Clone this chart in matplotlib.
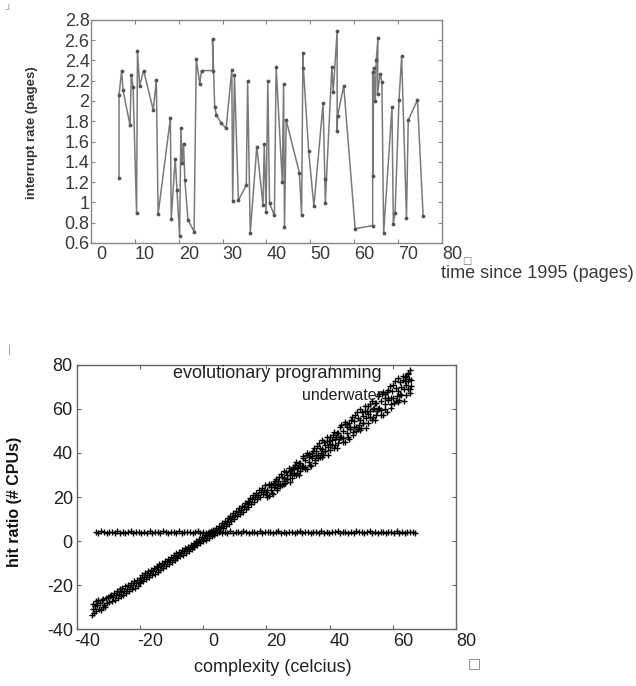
import matplotlib
matplotlib.use("Agg")
import matplotlib.pyplot as plt
import matplotlib.transforms as mtrans

plt.rcParams['font.family'] = ['Liberation Sans', 'DejaVu Sans']
plt.rcParams['axes.unicode_minus'] = False

# --- top panel: interrupt rate over time ---
time_x = [6.4, 6.4, 7.0, 7.3, 8.9, 9.2, 9.6, 10.4, 10.6, 11.1,
          12.0, 14.2, 14.9, 15.3, 18.1, 18.3, 19.2, 19.6, 20.2, 20.5,
          20.8, 21.1, 21.4, 22.1, 23.5, 24.0, 24.8, 25.2, 27.8, 27.7,
          28.2, 28.6, 29.7, 30.8, 32.1, 32.3, 32.7, 33.6, 35.4, 35.7,
          36.3, 37.8, 39.2, 39.5, 39.9, 40.3, 40.7, 41.8, 42.2, 43.6,
          43.9, 44.1, 44.5, 47.5, 48.0, 48.3, 48.4, 49.6, 50.8, 52.9,
          53.3, 53.4, 54.9, 55.2, 56.1, 56.1, 56.2, 57.6, 60.2, 64.2,
          64.2, 64.3, 64.4, 64.8, 65.0, 65.4, 65.3, 65.9, 66.3, 66.7,
          68.6, 68.9, 69.3, 70.2, 70.8, 71.9, 72.3, 74.4, 75.7]
rate_y = [1.24, 2.06, 2.30, 2.11, 1.76, 2.26, 2.14, 0.89, 2.49, 2.15,
          2.30, 1.91, 2.21, 0.88, 1.83, 0.84, 1.43, 1.12, 0.67, 1.73,
          1.39, 1.58, 1.22, 0.83, 0.71, 2.41, 2.17, 2.30, 2.30, 2.61,
          1.94, 1.86, 1.78, 1.73, 2.31, 1.01, 2.26, 1.02, 1.17, 2.20,
          0.70, 1.55, 0.97, 1.58, 0.90, 2.20, 0.99, 0.87, 2.34, 1.20,
          2.17, 0.76, 1.81, 1.29, 0.87, 2.47, 2.33, 1.51, 0.96, 1.98,
          1.23, 0.99, 2.34, 2.09, 2.69, 1.70, 1.85, 2.15, 0.74, 0.77,
          2.29, 1.26, 2.33, 2.00, 2.40, 2.62, 2.07, 2.27, 2.19, 0.70,
          1.94, 0.79, 0.89, 2.01, 2.44, 0.85, 1.81, 2.01, 0.86]
top_xticks = [0, 10, 20, 30, 40, 50, 60, 70, 80]
top_yticks = [0.6, 0.8, 1.0, 1.2, 1.4, 1.6, 1.8, 2.0, 2.2, 2.4, 2.6, 2.8]

# --- bottom panel: hit ratio vs complexity ---
# "evolutionary programming": flat row of points
flat_x = [-34.0, -33.2, -32.3, -31.5, -30.6, -29.8, -28.9, -28.1, -27.2, -26.4,
          -25.5, -24.7, -23.8, -23.0, -22.1, -21.3, -20.4, -19.6, -18.7, -17.9,
          -17.0, -16.2, -15.3, -14.5, -13.6, -12.8, -11.9, -11.1, -10.2, -9.4,
          -8.5, -7.7, -6.8, -6.0, -5.1, -4.3, -3.4, -2.6, -1.7, -0.9,
          0.0, 0.8, 1.7, 2.5, 3.4, 4.2, 5.1, 5.9, 6.8, 7.6,
          8.5, 9.3, 10.2, 11.0, 11.9, 12.7, 13.6, 14.4, 15.3, 16.1,
          17.0, 17.8, 18.7, 19.5, 20.4, 21.2, 22.1, 22.9, 23.8, 24.6,
          25.5, 26.3, 27.2, 28.0, 28.9, 29.7, 30.6, 31.4, 32.3, 33.1,
          34.0, 34.8, 35.7, 36.5, 37.4, 38.2, 39.1, 39.9, 40.8, 41.6,
          42.5, 43.3, 44.2, 45.0, 45.9, 46.7, 47.6, 48.4, 49.3, 50.1,
          51.0, 51.8, 52.7, 53.5, 54.4, 55.2, 56.1, 56.9, 57.8, 58.6,
          59.5, 60.3, 61.2, 62.0, 62.9, 63.7, 64.6, 65.4, 66.3, 67.0]
flat_y = [4.1, 3.6, 4.4, 3.9, 3.5, 4.3, 4.0, 3.7, 4.5, 3.8,
          4.2, 3.6, 4.0, 4.4, 3.7, 3.9, 4.3, 3.5, 4.1, 3.8,
          4.4, 3.6, 4.0, 4.2, 3.7, 4.5, 3.9, 3.6, 4.3, 4.0,
          3.8, 4.4, 3.5, 4.1, 3.9, 4.3, 3.7, 4.0, 4.5, 3.6,
          4.2, 3.8, 4.0, 4.4, 3.7, 3.9, 4.3, 3.6, 4.1, 3.8,
          4.4, 3.5, 4.0, 4.2, 3.7, 4.5, 3.9, 3.6, 4.3, 4.0,
          3.8, 4.4, 3.6, 4.1, 3.9, 4.3, 3.7, 4.0, 4.4, 3.6,
          4.2, 3.8, 4.0, 4.3, 3.7, 3.9, 4.4, 3.6, 4.1, 3.9,
          3.7, 4.3, 4.0, 3.6, 4.4, 3.8, 4.1, 3.5, 4.2, 3.9,
          4.4, 3.7, 4.0, 4.3, 3.6, 4.1, 3.8, 4.5, 3.9, 4.2,
          3.6, 4.0, 4.4, 3.8, 4.1, 3.7, 4.3, 3.9, 3.6, 4.2,
          4.0, 3.7, 4.4, 3.8, 4.1, 3.6, 4.3, 3.9, 4.2, 3.8]

# "underwater": diagonal band
band_x = [-35.2, -35.0, -34.8, -34.6, -34.3, -34.1, -33.9, -33.6, -33.4, -33.1,
          -32.8, -32.5, -32.2, -31.9, -31.6, -31.3, -31.0, -30.7, -30.4, -30.1,
          -29.8, -29.5, -29.2, -28.9, -28.6, -28.3, -28.0, -27.7, -27.4, -27.1,
          -26.8, -26.5, -26.2, -25.9, -25.6, -25.3, -25.0, -24.7, -24.4, -24.1,
          -23.8, -23.5, -23.2, -22.9, -22.6, -22.3, -22.0, -21.7, -21.4, -21.1,
          -20.8, -20.5, -20.2,
          -19.9, -19.6, -19.3, -19.0, -18.7, -18.4, -18.1, -17.8, -17.5, -17.2,
          -16.9, -16.6, -16.3, -16.0, -15.7, -15.4, -15.1, -14.8, -14.5, -14.2,
          -13.9, -13.6, -13.3, -13.0, -12.7, -12.4, -12.1, -11.8, -11.5, -11.2,
          -10.9, -10.6, -10.3,
          -10.0, -9.7, -9.4, -9.1, -8.8, -8.5, -8.2, -7.9, -7.6, -7.3,
          -7.0, -6.7, -6.4, -6.1, -5.8, -5.5, -5.2, -4.9, -4.6, -4.3,
          -4.0, -3.7, -3.4, -3.1, -2.8, -2.5, -2.2, -1.9, -1.6, -1.3,
          -1.0, -0.7, -0.4, -0.1, 0.2, 0.5, 0.8, 1.1, 1.4, 1.7,
          2.0, 2.3, 2.6, 2.9, 3.2,
          3.5, 3.8, 4.1, 4.4, 4.7, 5.0, 5.3, 5.6, 5.9, 6.2,
          6.5, 6.8, 7.1, 7.4, 7.7, 8.0, 8.3, 8.6, 8.9, 9.2,
          9.5, 9.8, 10.1, 10.4, 10.7, 11.0, 11.3, 11.6, 11.9, 12.2,
          12.5, 12.8, 13.1, 13.4, 13.7, 14.0, 14.3, 14.6, 14.9, 15.2,
          15.5, 15.8, 16.1, 16.4, 16.7, 17.0, 17.3, 17.6, 17.9, 18.2,
          18.5, 18.8, 19.1, 19.4, 19.7,
          20.1, 20.25, 20.85, 21.4, 21.5, 22.0, 22.55, 22.6, 23.3, 23.55,
          24.1, 24.25, 24.85, 25.4, 25.5, 26.0, 26.55, 26.6, 27.3, 27.55,
          28.1, 28.25, 28.85, 29.4, 29.5, 30.0, 30.55, 30.6, 31.3, 31.55,
          32.1, 32.25, 32.85, 33.4, 33.5, 34.0, 34.55, 34.6, 35.3, 35.55,
          36.1, 36.25, 36.85, 37.4, 37.5, 38.0, 38.55, 38.6, 39.3, 39.55,
          40.1, 40.25, 40.85, 41.4, 41.5, 42.0, 42.55, 42.6, 43.3, 43.55,
          44.1, 44.25, 44.85, 45.4, 45.5, 46.0, 46.55, 46.6, 47.3, 47.55,
          48.1, 48.25, 48.85, 49.4, 49.5, 50.0, 50.55, 50.6, 51.3, 51.55,
          52.1, 52.25, 52.85, 53.4, 53.5, 54.0, 54.55, 54.6, 55.3, 55.55,
          56.1, 56.25, 56.85, 57.4, 57.5, 58.0, 58.55, 58.6, 59.3, 59.55,
          60.1, 60.25, 60.85, 61.4, 61.5, 62.0, 62.55, 62.6, 63.3, 63.55,
          64.1, 64.25, 64.85, 65.4, 65.5, 64.7, 65.1, 63.9, 65.6]
band_y = [-33.8, -31.0, -28.4, -32.5, -29.6, -27.3, -31.9, -29.0, -26.9, -30.8,
          -28.1, -31.2, -27.0, -29.9, -26.3, -28.9, -30.1, -26.0, -28.3, -25.4,
          -27.9, -25.1, -24.3, -27.4, -25.6, -23.4, -26.8, -24.6, -22.9, -25.8,
          -23.9, -21.8, -25.0, -23.0, -21.2, -24.6, -22.6, -20.5, -23.8, -21.7,
          -19.8, -22.9, -20.9, -18.9, -21.8, -20.2, -18.1, -21.2, -19.1, -17.5,
          -20.3, -18.4, -16.6,
          -19.2, -17.5, -15.6, -18.2, -16.4, -14.7, -17.3, -15.6, -13.8, -16.3,
          -14.6, -13.0, -15.5, -13.7, -12.1, -14.9, -12.8, -11.3, -13.9, -12.0,
          -10.5, -13.0, -11.3, -9.8, -12.1, -10.6, -8.9, -11.2, -9.6, -8.0,
          -10.4, -8.7, -7.3,
          -9.4, -7.9, -6.4, -8.6, -7.0, -5.6, -7.9, -6.2, -4.9, -7.0,
          -5.4, -4.1, -6.3, -4.6, -3.2, -5.4, -3.8, -2.5, -4.6, -3.0,
          -1.6, -3.7, -2.2, -0.9, -2.9, -1.4, 0.0, -2.0, -0.5, 0.9,
          -1.1, 0.4, 1.8, -0.2, 1.3, 2.6, 0.6, 2.1, 3.5, 1.6,
          3.0, 4.3, 2.4, 3.9, 5.1,
          2.6, 4.5, 6.1, 3.6, 5.4, 7.0, 4.6, 6.5, 8.1, 5.8,
          7.6, 9.3, 6.9, 8.7, 10.3, 7.9, 9.8, 11.4, 9.0, 10.9,
          12.6, 10.1, 12.0, 13.7, 11.2, 13.2, 14.9, 12.3, 14.3, 16.0,
          13.4, 15.5, 17.2, 14.5, 16.6, 18.3, 15.6, 17.7, 19.5, 16.7,
          18.9, 20.7, 17.9, 20.0, 21.8, 19.0, 21.1, 23.0, 20.2, 22.3,
          24.1, 21.3, 23.4, 25.3, 22.4,
          23.2, 20.0, 25.9, 23.1, 25.7, 21.5, 25.3, 27.3, 24.2, 25.8,
          29.3, 24.9, 28.9, 27.1, 31.6, 26.4, 30.1, 28.0, 32.0, 26.9,
          31.1, 33.6, 30.6, 35.7, 29.8, 33.7, 31.7, 35.5, 34.0, 38.6,
          36.7, 32.5, 39.9, 36.1, 39.4, 33.9, 38.6, 41.1, 36.9, 38.9,
          43.3, 37.5, 42.4, 40.0, 45.8, 38.9, 43.5, 40.9, 45.6, 39.2,
          44.3, 47.4, 43.5, 49.6, 42.3, 47.1, 44.4, 49.2, 47.1, 52.6,
          50.1, 45.0, 53.9, 49.1, 53.2, 46.3, 51.9, 54.9, 49.7, 52.0,
          57.2, 50.2, 56.0, 52.9, 59.9, 51.5, 56.8, 53.7, 59.3, 51.5,
          57.5, 61.2, 56.4, 63.6, 54.9, 60.4, 57.1, 62.8, 60.2, 66.7,
          63.6, 57.4, 67.9, 62.1, 66.9, 58.7, 65.2, 68.8, 62.4, 65.1,
          71.1, 62.8, 69.6, 65.9, 74.0, 64.0, 70.2, 66.5, 73.0, 63.8,
          70.7, 75.0, 69.3, 77.6, 67.4, 76.5, 73.5, 74.5, 70.5]
# second, overlapping run of the same band (upper part is wider and denser)
band2_x = [20.2, 20.72, 20.92, 21.58, 21.66, 22.26, 22.42, 23.1, 23.43, 23.7,
           24.2, 24.72, 24.92, 25.58, 25.66, 26.26, 26.42, 27.1, 27.43, 27.7,
           28.2, 28.72, 28.92, 29.58, 29.66, 30.26, 30.42, 31.1, 31.43, 31.7,
           32.2, 32.72, 32.92, 33.58, 33.66, 34.26, 34.42, 35.1, 35.43, 35.7,
           36.2, 36.72, 36.92, 37.58, 37.66, 38.26, 38.42, 39.1, 39.43, 39.7,
           40.2, 40.72, 40.92, 41.58, 41.66, 42.26, 42.42, 43.1, 43.43, 43.7,
           44.2, 44.72, 44.92, 45.58, 45.66, 46.26, 46.42, 47.1, 47.43, 47.7,
           48.2, 48.72, 48.92, 49.58, 49.66, 50.26, 50.42, 51.1, 51.43, 51.7,
           52.2, 52.72, 52.92, 53.58, 53.66, 54.26, 54.42, 55.1, 55.43, 55.7,
           56.2, 56.72, 56.92, 57.58, 57.66, 58.26, 58.42, 59.1, 59.43, 59.7,
           60.2, 60.72, 60.92, 61.58, 61.66, 62.26, 62.42, 63.1, 63.43, 63.7,
           64.2, 64.72, 64.92, 65.58, 65.66]
band2_y = [21.0, 25.3, 20.3, 24.7, 22.0, 26.4, 24.7, 28.3, 23.2, 27.4,
           26.0, 30.6, 25.6, 28.5, 25.7, 31.2, 28.0, 33.2, 29.8, 32.1,
           28.7, 32.5, 34.6, 30.8, 33.2, 30.1, 35.5, 33.2, 37.8, 34.3,
           33.8, 39.1, 32.6, 38.1, 34.6, 40.1, 37.8, 42.3, 35.6, 40.9,
           38.9, 44.6, 38.2, 41.7, 38.1, 44.9, 40.9, 47.2, 42.9, 45.6,
           41.2, 45.9, 48.4, 43.6, 46.5, 42.4, 49.2, 46.2, 51.8, 47.3,
           46.6, 53.0, 44.9, 51.6, 47.2, 53.8, 51.0, 56.3, 48.0, 54.4,
           51.9, 58.7, 50.9, 55.0, 50.6, 58.6, 53.8, 61.2, 55.9, 59.2,
           53.8, 59.3, 62.2, 56.3, 59.8, 54.8, 62.8, 59.1, 65.7, 60.3,
           59.4, 66.9, 57.3, 65.0, 59.8, 67.5, 64.1, 70.3, 60.4, 68.0,
           64.9, 72.8, 63.5, 68.2, 63.1, 72.4, 66.7, 75.2, 69.0, 72.8,
           66.3, 72.6, 76.1, 69.1, 73.1]
bottom_ticks = [-40, -20, 0, 20, 40, 60, 80]

fig = plt.figure(figsize=(6.36, 6.86), dpi=100)
shift = mtrans.ScaledTranslation(0.10, 0, fig.dpi_scale_trans)

# top panel
ax1 = fig.add_axes([0.143, 0.646, 0.552, 0.325])
ax1.plot(time_x, rate_y, color='#7a7a7a', lw=1.1, marker='.', ms=3.5,
         mfc='#555555', mec='#555555')
ax1.set_xlim(0, 80)
ax1.set_ylim(0.6, 2.8)
ax1.set_xticks(top_xticks)
ax1.set_yticks(top_yticks)
ax1.set_yticklabels([f"{v:g}" for v in top_yticks])
ax1.tick_params(direction='in', length=3, width=0.8, color='#888888',
                top=True, right=True, labelsize=13, labelcolor='#3a3a3a', pad=2)
ax1.tick_params(axis='y', pad=1)
for lab in ax1.get_xticklabels():
    lab.set_transform(lab.get_transform() + shift)
for sp in ax1.spines.values():
    sp.set_color('#888888')
    sp.set_linewidth(1.0)

fig.text(32 / 636, 1 - 133 / 686, "interrupt rate (pages)", rotation=90,
         ha='center', va='center', fontsize=9.5, fontweight='bold', color='#333333')
fig.text(441 / 636, 1 - 274 / 686, "time since 1995 (pages)", ha='left',
         va='center', fontsize=13, color='#3a3a3a')
fig.text(467 / 636, 1 - 261 / 686, "\u25a1", ha='center', va='center',
         fontsize=7, color='#777777', family=['DejaVu Sans'])
fig.text(8 / 636, 1 - 10 / 686, "\u2518", ha='center', va='center',
         fontsize=7, color='#999999', family=['DejaVu Sans'])

# bottom panel
ax2 = fig.add_axes([0.121, 0.083, 0.596, 0.385])
ax2.plot(band_x, band_y, ls='none', marker='+', ms=4.5, mew=1.0, color='black')
ax2.plot(band2_x, band2_y, ls='none', marker='+', ms=4.5, mew=1.0, color='black')
ax2.plot(flat_x, flat_y, ls='none', marker='+', ms=4.5, mew=1.0, color='black')
ax2.set_xlim(-40, 80)
ax2.set_ylim(-40, 80)
ax2.set_xticks(bottom_ticks)
ax2.set_yticks(bottom_ticks)
ax2.tick_params(direction='in', length=3, width=0.8, color='#666666',
                top=True, right=True, labelsize=13, labelcolor='#222222', pad=3)
for lab in ax2.get_xticklabels():
    lab.set_transform(lab.get_transform() + shift)
for sp in ax2.spines.values():
    sp.set_color('#666666')
    sp.set_linewidth(1.0)

ax2.text(0.805, 0.967, "evolutionary programming", transform=ax2.transAxes,
         ha='right', va='center', fontsize=13, color='#222222')
ax2.text(0.805, 0.885, "underwater", transform=ax2.transAxes,
         ha='right', va='center', fontsize=11.5, color='#222222')

fig.text(15 / 636, 1 - 502 / 686, "hit ratio (# CPUs)", rotation=90,
         ha='center', va='center', fontsize=11.5, fontweight='bold', color='#111111')
fig.text(273 / 636, 1 - 667 / 686, "complexity (celcius)", ha='center',
         va='center', fontsize=13, color='#222222')
fig.text(474 / 636, 1 - 663 / 686, "\u25a1", ha='center', va='center',
         fontsize=10, color='#777777', family=['DejaVu Sans'])
fig.text(9 / 636, 1 - 350 / 686, "|", ha='center', va='center',
         fontsize=8, color='#999999')

fig.savefig("out.png", dpi=100)
